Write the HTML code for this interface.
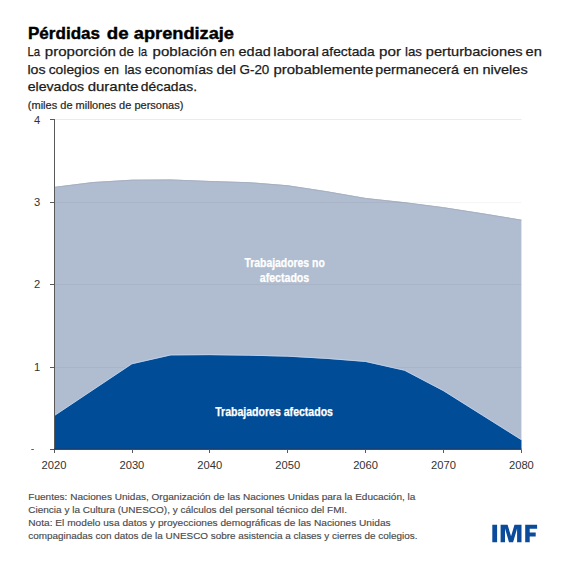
<!DOCTYPE html>
<html><head><meta charset="utf-8"><style>
html,body{margin:0;padding:0;background:#fff;}
svg{display:block;font-family:"Liberation Sans",sans-serif;}
</style></head><body>
<svg width="564" height="564" viewBox="0 0 564 564">
<rect width="564" height="564" fill="#fff"/>
<line x1="54.5" y1="119.5" x2="521.4" y2="119.5" stroke="#EBEBEB" stroke-width="1"/>
<path d="M54,449.5 L54.00,186.90 L92.95,182.10 L131.90,179.70 L170.85,179.50 L209.80,181.00 L248.75,182.20 L287.70,185.30 L326.65,191.20 L365.60,198.00 L404.55,202.20 L443.50,207.20 L482.45,213.30 L521.40,219.70 L521.4,449.5 Z" fill="#B0BCCF"/>
<polyline points="54.00,187.35 92.95,182.55 131.90,180.15 170.85,179.95 209.80,181.45 248.75,182.65 287.70,185.75 326.65,191.65 365.60,198.45 404.55,202.65 443.50,207.65 482.45,213.75 521.40,220.15" fill="none" stroke="#A4AEBF" stroke-width="0.9"/>
<line x1="54.5" y1="202.5" x2="521.4" y2="202.5" stroke="rgba(0,0,0,0.04)" stroke-width="1"/>
<line x1="54.5" y1="284.5" x2="521.4" y2="284.5" stroke="rgba(0,0,0,0.04)" stroke-width="1"/>
<line x1="54.5" y1="367.5" x2="521.4" y2="367.5" stroke="rgba(0,0,0,0.04)" stroke-width="1"/>
<path d="M54,449.5 L54.00,416.10 L92.95,390.10 L131.90,364.10 L170.85,355.20 L209.80,355.00 L248.75,355.50 L287.70,356.50 L326.65,358.70 L365.60,361.80 L404.55,370.60 L443.50,391.00 L482.45,415.50 L521.40,440.00 L521.4,449.5 Z" fill="#004C97"/>
<polyline points="54.00,415.80 92.95,389.80 131.90,363.80 170.85,354.90 209.80,354.70 248.75,355.20 287.70,356.20 326.65,358.40 365.60,361.50 404.55,370.30 443.50,390.70 482.45,415.20 521.40,439.70" fill="none" stroke="#C0D6F3" stroke-width="0.85"/>
<line x1="54.5" y1="119" x2="54.5" y2="450" stroke="#595959" stroke-width="1"/>
<line x1="54" y1="449.2" x2="521.4" y2="449.2" stroke="#1F3A66" stroke-width="1.2"/>
<line x1="50" y1="119.5" x2="54" y2="119.5" stroke="#595959" stroke-width="1"/>
<line x1="50" y1="202.5" x2="54" y2="202.5" stroke="#595959" stroke-width="1"/>
<line x1="50" y1="284.5" x2="54" y2="284.5" stroke="#595959" stroke-width="1"/>
<line x1="50" y1="367.5" x2="54" y2="367.5" stroke="#595959" stroke-width="1"/>
<line x1="50" y1="449.5" x2="54" y2="449.5" stroke="#595959" stroke-width="1"/>
<line x1="54.50" y1="449.5" x2="54.50" y2="453" stroke="#595959" stroke-width="1"/>
<line x1="132.50" y1="449.5" x2="132.50" y2="453" stroke="#595959" stroke-width="1"/>
<line x1="209.50" y1="449.5" x2="209.50" y2="453" stroke="#595959" stroke-width="1"/>
<line x1="287.50" y1="449.5" x2="287.50" y2="453" stroke="#595959" stroke-width="1"/>
<line x1="365.50" y1="449.5" x2="365.50" y2="453" stroke="#595959" stroke-width="1"/>
<line x1="443.50" y1="449.5" x2="443.50" y2="453" stroke="#595959" stroke-width="1"/>
<line x1="521.50" y1="449.5" x2="521.50" y2="453" stroke="#595959" stroke-width="1"/>
<text x="28.0" y="39.4" font-size="17" font-weight="700" fill="#000" text-anchor="start" textLength="72.0" lengthAdjust="spacingAndGlyphs" stroke="#000" stroke-width="0.4">Pérdidas</text>
<text x="106.8" y="39.4" font-size="17" font-weight="700" fill="#000" text-anchor="start" textLength="21.8" lengthAdjust="spacingAndGlyphs" stroke="#000" stroke-width="0.4">de</text>
<text x="133.8" y="39.4" font-size="17" font-weight="700" fill="#000" text-anchor="start" textLength="100.2" lengthAdjust="spacingAndGlyphs" stroke="#000" stroke-width="0.4">aprendizaje</text>
<text x="27.45" y="56.3" font-size="13.6" font-weight="400" fill="#1a1a1a" text-anchor="start" textLength="12.61" lengthAdjust="spacingAndGlyphs" stroke="#1a1a1a" stroke-width="0.25">La</text>
<text x="44.83" y="56.3" font-size="13.6" font-weight="400" fill="#1a1a1a" text-anchor="start" textLength="71.11" lengthAdjust="spacingAndGlyphs" stroke="#1a1a1a" stroke-width="0.25">proporción</text>
<text x="119.11" y="56.3" font-size="13.6" font-weight="400" fill="#1a1a1a" text-anchor="start" textLength="14.92" lengthAdjust="spacingAndGlyphs" stroke="#1a1a1a" stroke-width="0.25">de</text>
<text x="138.31" y="56.3" font-size="13.6" font-weight="400" fill="#1a1a1a" text-anchor="start" textLength="8.91" lengthAdjust="spacingAndGlyphs" stroke="#1a1a1a" stroke-width="0.25">la</text>
<text x="152.63" y="56.3" font-size="13.6" font-weight="400" fill="#1a1a1a" text-anchor="start" textLength="64.17" lengthAdjust="spacingAndGlyphs" stroke="#1a1a1a" stroke-width="0.25">población</text>
<text x="219.81" y="56.3" font-size="13.6" font-weight="400" fill="#1a1a1a" text-anchor="start" textLength="14.91" lengthAdjust="spacingAndGlyphs" stroke="#1a1a1a" stroke-width="0.25">en</text>
<text x="238.58" y="56.3" font-size="13.6" font-weight="400" fill="#1a1a1a" text-anchor="start" textLength="32.13" lengthAdjust="spacingAndGlyphs" stroke="#1a1a1a" stroke-width="0.25">edad</text>
<text x="273.32" y="56.3" font-size="13.6" font-weight="400" fill="#1a1a1a" text-anchor="start" textLength="45.59" lengthAdjust="spacingAndGlyphs" stroke="#1a1a1a" stroke-width="0.25">laboral</text>
<text x="321.59" y="56.3" font-size="13.6" font-weight="400" fill="#1a1a1a" text-anchor="start" textLength="53.18" lengthAdjust="spacingAndGlyphs" stroke="#1a1a1a" stroke-width="0.25">afectada</text>
<text x="379.12" y="56.3" font-size="13.6" font-weight="400" fill="#1a1a1a" text-anchor="start" textLength="21.94" lengthAdjust="spacingAndGlyphs" stroke="#1a1a1a" stroke-width="0.25">por</text>
<text x="405.02" y="56.3" font-size="13.6" font-weight="400" fill="#1a1a1a" text-anchor="start" textLength="16.96" lengthAdjust="spacingAndGlyphs" stroke="#1a1a1a" stroke-width="0.25">las</text>
<text x="425.85" y="56.3" font-size="13.6" font-weight="400" fill="#1a1a1a" text-anchor="start" textLength="96.75" lengthAdjust="spacingAndGlyphs" stroke="#1a1a1a" stroke-width="0.25">perturbaciones</text>
<text x="525.47" y="56.3" font-size="13.6" font-weight="400" fill="#1a1a1a" text-anchor="start" textLength="16.32" lengthAdjust="spacingAndGlyphs" stroke="#1a1a1a" stroke-width="0.25">en</text>
<text x="27.47" y="73.8" font-size="13.6" font-weight="400" fill="#1a1a1a" text-anchor="start" textLength="18.13" lengthAdjust="spacingAndGlyphs" stroke="#1a1a1a" stroke-width="0.25">los</text>
<text x="48.69" y="73.8" font-size="13.6" font-weight="400" fill="#1a1a1a" text-anchor="start" textLength="50.81" lengthAdjust="spacingAndGlyphs" stroke="#1a1a1a" stroke-width="0.25">colegios</text>
<text x="104.1" y="73.8" font-size="13.6" font-weight="400" fill="#1a1a1a" text-anchor="start" textLength="15.02" lengthAdjust="spacingAndGlyphs" stroke="#1a1a1a" stroke-width="0.25">en</text>
<text x="124.42" y="73.8" font-size="13.6" font-weight="400" fill="#1a1a1a" text-anchor="start" textLength="16.96" lengthAdjust="spacingAndGlyphs" stroke="#1a1a1a" stroke-width="0.25">las</text>
<text x="144.79" y="73.8" font-size="13.6" font-weight="400" fill="#1a1a1a" text-anchor="start" textLength="68.14" lengthAdjust="spacingAndGlyphs" stroke="#1a1a1a" stroke-width="0.25">economías</text>
<text x="216.47" y="73.8" font-size="13.6" font-weight="400" fill="#1a1a1a" text-anchor="start" textLength="19.64" lengthAdjust="spacingAndGlyphs" stroke="#1a1a1a" stroke-width="0.25">del</text>
<text x="239.51" y="73.8" font-size="13.6" font-weight="400" fill="#1a1a1a" text-anchor="start" textLength="29.82" lengthAdjust="spacingAndGlyphs" stroke="#1a1a1a" stroke-width="0.25">G-20</text>
<text x="273.53" y="73.8" font-size="13.6" font-weight="400" fill="#1a1a1a" text-anchor="start" textLength="99.74" lengthAdjust="spacingAndGlyphs" stroke="#1a1a1a" stroke-width="0.25">probablemente</text>
<text x="375.27" y="73.8" font-size="13.6" font-weight="400" fill="#1a1a1a" text-anchor="start" textLength="83.76" lengthAdjust="spacingAndGlyphs" stroke="#1a1a1a" stroke-width="0.25">permanecerá</text>
<text x="463.39" y="73.8" font-size="13.6" font-weight="400" fill="#1a1a1a" text-anchor="start" textLength="15.34" lengthAdjust="spacingAndGlyphs" stroke="#1a1a1a" stroke-width="0.25">en</text>
<text x="482.55" y="73.8" font-size="13.6" font-weight="400" fill="#1a1a1a" text-anchor="start" textLength="45.1" lengthAdjust="spacingAndGlyphs" stroke="#1a1a1a" stroke-width="0.25">niveles</text>
<text x="27.69" y="91.1" font-size="13.6" font-weight="400" fill="#1a1a1a" text-anchor="start" textLength="56.47" lengthAdjust="spacingAndGlyphs" stroke="#1a1a1a" stroke-width="0.25">elevados</text>
<text x="87.66" y="91.1" font-size="13.6" font-weight="400" fill="#1a1a1a" text-anchor="start" textLength="50.91" lengthAdjust="spacingAndGlyphs" stroke="#1a1a1a" stroke-width="0.25">durante</text>
<text x="140.89" y="91.1" font-size="13.6" font-weight="400" fill="#1a1a1a" text-anchor="start" textLength="56.12" lengthAdjust="spacingAndGlyphs" stroke="#1a1a1a" stroke-width="0.25">décadas.</text>
<text x="27.8" y="108.8" font-size="10.6" font-weight="400" fill="#262626" text-anchor="start" textLength="155.6" lengthAdjust="spacingAndGlyphs" stroke="#262626" stroke-width="0.2">(miles de millones de personas)</text>
<text x="40.3" y="123.8" font-size="11.2" font-weight="400" fill="#333" text-anchor="end">4</text>
<text x="40.3" y="206.2" font-size="11.2" font-weight="400" fill="#333" text-anchor="end">3</text>
<text x="40.3" y="288" font-size="11.2" font-weight="400" fill="#333" text-anchor="end">2</text>
<text x="40.3" y="370.7" font-size="11.2" font-weight="400" fill="#333" text-anchor="end">1</text>
<rect x="31.3" y="449" width="2.5" height="1" fill="#595959"/>
<text x="54.00" y="468.9" font-size="11.2" font-weight="400" fill="#333" text-anchor="middle">2020</text>
<text x="131.90" y="468.9" font-size="11.2" font-weight="400" fill="#333" text-anchor="middle">2030</text>
<text x="209.80" y="468.9" font-size="11.2" font-weight="400" fill="#333" text-anchor="middle">2040</text>
<text x="287.70" y="468.9" font-size="11.2" font-weight="400" fill="#333" text-anchor="middle">2050</text>
<text x="365.60" y="468.9" font-size="11.2" font-weight="400" fill="#333" text-anchor="middle">2060</text>
<text x="443.50" y="468.9" font-size="11.2" font-weight="400" fill="#333" text-anchor="middle">2070</text>
<text x="521.40" y="468.9" font-size="11.2" font-weight="400" fill="#333" text-anchor="middle">2080</text>
<text x="284.6" y="267.2" font-size="11.9" font-weight="700" fill="#fff" text-anchor="middle" textLength="80.3" lengthAdjust="spacingAndGlyphs" stroke="#fff" stroke-width="0.25">Trabajadores no</text>
<text x="284.5" y="282.0" font-size="11.9" font-weight="700" fill="#fff" text-anchor="middle" textLength="49.5" lengthAdjust="spacingAndGlyphs" stroke="#fff" stroke-width="0.25">afectados</text>
<text x="274.1" y="415.5" font-size="12.2" font-weight="700" fill="#fff" text-anchor="middle" textLength="117.8" lengthAdjust="spacingAndGlyphs" stroke="#fff" stroke-width="0.25">Trabajadores afectados</text>
<text x="28.3" y="500.2" font-size="9.8" font-weight="400" fill="#4a4a4a" text-anchor="start" textLength="387.1" lengthAdjust="spacingAndGlyphs" stroke="#4a4a4a" stroke-width="0.15">Fuentes: Naciones Unidas, Organización de las Naciones Unidas para la Educación, la</text>
<text x="28.3" y="512.9" font-size="9.8" font-weight="400" fill="#4a4a4a" text-anchor="start" textLength="318.8" lengthAdjust="spacingAndGlyphs" stroke="#4a4a4a" stroke-width="0.15">Ciencia y la Cultura (UNESCO), y cálculos del personal técnico del FMI.</text>
<text x="28.3" y="525.6" font-size="9.8" font-weight="400" fill="#4a4a4a" text-anchor="start" textLength="362.3" lengthAdjust="spacingAndGlyphs" stroke="#4a4a4a" stroke-width="0.15">Nota: El modelo usa datos y proyecciones demográficas de las Naciones Unidas</text>
<text x="28.3" y="538.6" font-size="9.8" font-weight="400" fill="#4a4a4a" text-anchor="start" textLength="389.2" lengthAdjust="spacingAndGlyphs" stroke="#4a4a4a" stroke-width="0.15">compaginadas con datos de la UNESCO sobre asistencia a clases y cierres de colegios.</text>
<path d="M492.3,524.8H497.1V542.2H492.3Z M500.6,542.2V524.8H507.6L511.05,536.3L514.5,524.8H521.5V542.2H517.1V528.6L513.1,542.2H509L505,528.6V542.2Z M525.2,542.2V524.8H537.1V528.8H529.7V532.6H535.7V536.4H529.7V542.2Z" fill="#0B4B9B"/>
</svg></body></html>
